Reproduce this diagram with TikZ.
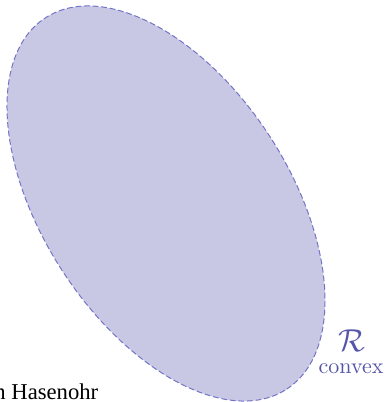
\documentclass[tikz,border=0pt]{standalone}
\usepackage{fontspec}
\newfontfamily\signfont{Liberation Serif}
\definecolor{regionfill}{RGB}{200,200,228}
\definecolor{regionline}{RGB}{115,115,200}
\definecolor{regiontext}{RGB}{85,85,170}
\begin{document}
\begin{tikzpicture}[x=0.4545pt,y=0.4545pt,
  region/.style={fill=regionfill,draw=regionline,line width=0.45pt,dash pattern=on 2.6pt off 1.3pt},
  regionlabel/.style={text=regiontext,inner sep=0pt}]
  \useasboundingbox (0,0) rectangle (387,402);
  \coordinate (c) at (166,198.5);
  \draw[region,rotate around={-57:(c)}] (c) ellipse [x radius=221.4,y radius=123.6];
  \node[regionlabel] (rsym) at (352,61) {\Large$\mathcal{R}$};
  \node[regionlabel,anchor=base] (rname) at (351,29) {convex};
  \node[anchor=base west,inner sep=0pt,font={\signfont\fontsize{10.3}{12}\selectfont}] (sign) at (-6,2.5) {n Hasenohr};
\end{tikzpicture}
\end{document}
